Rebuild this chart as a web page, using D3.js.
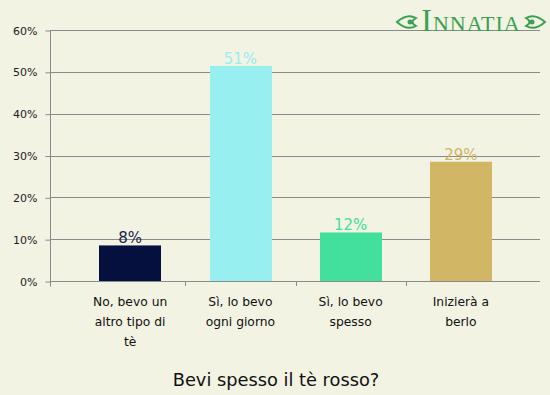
<!DOCTYPE html>
<html>
<head>
<meta charset="utf-8">
<script src="https://cdn.jsdelivr.net/npm/d3@7"></script>
<style>
	body { margin: 0; background: #f3f3e3; }
	svg { display: block; font-family: "DejaVu Sans", Verdana, sans-serif; }
</style>
</head>
<body>
<div id="chart"></div>
<script>
var categories = [["No, bevo un", "altro tipo di", "tè"], ["Sì, lo bevo", "ogni giorno"], ["Sì, lo bevo", "spesso"], ["Inizierà a", "berlo"]];
var values = [8.5, 51.4, 11.6, 28.5];
var valueLabels = ["8%", "51%", "12%", "29%"];
var colors = ["#06103e", "#97eff0", "#42e09c", "#d0b665"];
var yTicks = [0, 10, 20, 30, 40, 50, 60];
var title = "Bevi spesso il tè rosso?";

var width = 550, height = 395;
var svg = d3.select("#chart").append("svg")
	.attr("width", width)
	.attr("height", height);

svg.append("rect").attr("width", width).attr("height", height).attr("fill", "#f3f3e3");

var y = d3.scaleLinear().domain([0, 60]).range([281, 30]);
var x = d3.scaleBand().domain(d3.range(categories.length)).range([75, 516]).paddingInner(0.44).paddingOuter(0.22);

// gridlines
svg.append("g").selectAll("line").data(yTicks).enter().append("line")
	.attr("x1", 50).attr("x2", 540)
	.attr("y1", function (d) { return Math.round(y(d)) + 0.5; })
	.attr("y2", function (d) { return Math.round(y(d)) + 0.5; })
	.attr("stroke", "#8a8a8a").attr("stroke-width", 1);

// y axis
var yAxis = d3.axisLeft(y).tickValues(yTicks).tickSize(5).tickPadding(8)
	.tickFormat(function (d) { return d + "%"; });
var ya = svg.append("g").attr("transform", "translate(50.5,0.5)").call(yAxis);
ya.select(".domain").attr("stroke", "#8a8a8a").attr("d", "M0," + y(60) + "V" + (y(0) + 5));
ya.selectAll(".tick line").attr("stroke", "#8a8a8a");
ya.selectAll(".tick text").attr("fill", "#222").style("font-size", "11px").style("font-family", "DejaVu Sans, Verdana, sans-serif");

// x category separators
var seps = [1, 2, 3].map(function (i) { return x(i) - x.step() * x.paddingInner() / 2; });
svg.append("g").selectAll("line").data(seps).enter().append("line")
	.attr("x1", function (d) { return Math.round(d) + 0.5; })
	.attr("x2", function (d) { return Math.round(d) + 0.5; })
	.attr("y1", 281).attr("y2", 286)
	.attr("stroke", "#8a8a8a");

// bars
svg.append("g").selectAll("rect").data(values).enter().append("rect")
	.attr("x", function (d, i) { return Math.round(x(i)); })
	.attr("width", Math.round(x.bandwidth()))
	.attr("y", function (d) { return y(d); })
	.attr("height", function (d) { return y(0) - y(d); })
	.attr("fill", function (d, i) { return colors[i]; });

// value labels
svg.append("g").selectAll("text").data(values).enter().append("text")
	.attr("x", function (d, i) { return x(i) + x.bandwidth() / 2; })
	.attr("y", function (d) { return y(d) - 2; })
	.attr("text-anchor", "middle")
	.style("font-size", "15px")
	.attr("fill", function (d, i) { return i === 0 ? "#1c2350" : colors[i]; })
	.text(function (d, i) { return valueLabels[i]; });

// category labels
var cat = svg.append("g").selectAll("text").data(categories).enter().append("text")
	.attr("text-anchor", "middle")
	.style("font-size", "12.3px")
	.attr("fill", "#111");
cat.each(function (lines, i) {
	var t = d3.select(this);
	lines.forEach(function (l, j) {
		t.append("tspan")
			.attr("x", x(i) + x.bandwidth() / 2)
			.attr("y", 306 + j * 20)
			.text(l);
	});
});

// title
svg.append("text")
	.attr("x", 276).attr("y", 386)
	.attr("text-anchor", "middle")
	.style("font-size", "17.8px")
	.attr("fill", "#111")
	.text(title);

// logo
var logo = svg.append("g").attr("fill", "#3aa150");
logo.append("text")
	.attr("x", 471).attr("y", 31)
	.attr("text-anchor", "middle")
	.style("font-family", "Liberation Serif, serif")
	.style("letter-spacing", "1px")
	.html('<tspan style="font-size:32px">I</tspan><tspan style="font-size:22px">NNATIA</tspan>');
[[407, 22], [535, 22]].forEach(function (p, k) {
	var dir = k === 0 ? 1 : -1;
	logo.append("path")
		.attr("d", "M" + (p[0] - 10 * dir) + "," + p[1] + " Q" + p[0] + "," + (p[1] - 9) + " " + (p[0] + 9 * dir) + "," + (p[1] - 4) +
			" Q" + (p[0] + 2 * dir) + "," + p[1] + " " + (p[0] + 9 * dir) + "," + (p[1] + 4) +
			" Q" + p[0] + "," + (p[1] + 9) + " " + (p[0] - 10 * dir) + "," + p[1] + "Z")
		.attr("fill", "none").attr("stroke", "#3aa150").attr("stroke-width", 2);
	logo.append("circle").attr("cx", p[0] + 3 * dir).attr("cy", p[1]).attr("r", 2.5);
});
</script>
</body>
</html>
